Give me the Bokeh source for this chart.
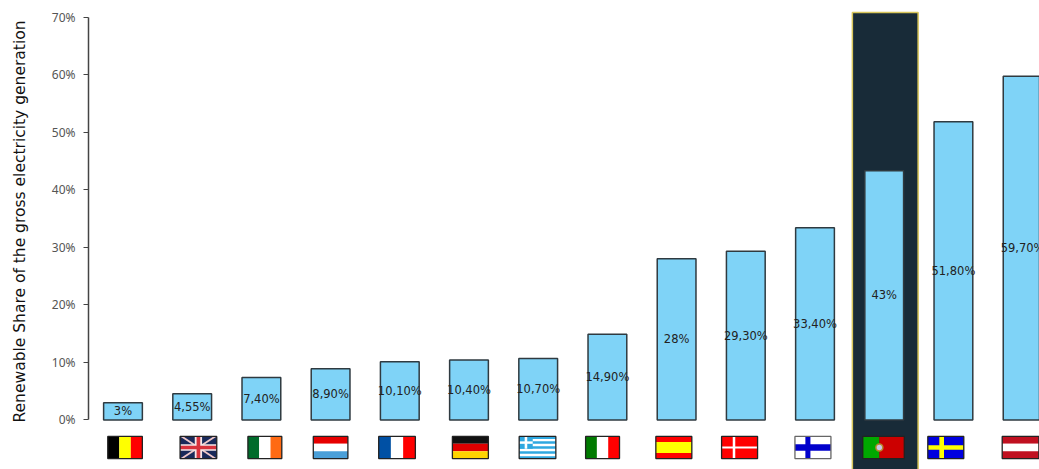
import math
from bokeh.plotting import figure
from bokeh.embed import file_html
from bokeh.resources import INLINE
from bokeh.models import FixedTicker, Range1d, ColumnDataSource
from bokeh.core.properties import value

countries = ["BE", "UK", "IE", "LU", "FR", "DE", "GR", "IT", "ES", "DK", "FI", "PT", "SE", "AT"]
shares = [3, 4.55, 7.4, 8.9, 10.1, 10.4, 10.7, 14.9, 28, 29.3, 33.4, 43.3, 51.8, 59.7]
share_labels = ["3%", "4,55%", "7,40%", "8,90%", "10,10%", "10,40%", "10,70%", "14,90%",
                "28%", "29,30%", "33,40%", "43%", "51,80%", "59,70%"]
ticks = [0, 10, 20, 30, 40, 50, 60, 70]
tick_labels = ["0%", "10%", "20%", "30%", "40%", "50%", "60%", "70%"]
y_title = "Renewable Share of the gross electricity generation"
flag_centers = [0.03, 1.09, 2.05, 3.0, 3.96, 5.02, 5.99, 6.93, 7.96, 8.91, 9.97, 10.99, 11.89, 12.97]
flag_widths = [0.50, 0.53, 0.49, 0.50, 0.53, 0.52, 0.53, 0.49, 0.52, 0.52, 0.52, 0.60, 0.52, 0.53]
flag_mid = -4.78
flag_height = 3.85
highlight = "PT"

stripes_v = {"BE": (["#000000", "#FFFF00", "#FF0000"], [1, 1, 1]),
             "IE": (["#006B2B", "#FFFFFF", "#FF6A13"], [1, 1, 1]),
             "FR": (["#0050A4", "#FFFFFF", "#FF0000"], [1, 1, 1]),
             "IT": (["#007A00", "#FFFFFF", "#FF0000"], [1, 1, 1]),
             "PT": (["#00A800", "#CC0000"], [2, 3])}
stripes_h = {"LU": (["#E60000", "#FFFFFF", "#4A9FD8"], [1, 1, 1]),
             "DE": (["#111111", "#E00000", "#FFD400"], [1, 1, 1]),
             "ES": (["#FF0000", "#FFFF00", "#FF0000"], [1, 2, 1]),
             "AT": (["#C01020", "#FFFFFF", "#C01020"], [1, 1, 1])}
# background, cross colour, vertical start, vertical end, horizontal half-height (fractions of flag)
crosses = {"DK": ("#FF0000", "#FFFFFF", 0.31, 0.38, 0.05),
           "FI": ("#FFFFFF", "#0000CC", 0.29, 0.43, 0.15),
           "SE": ("#0000E0", "#FFFF00", 0.32, 0.45, 0.10)}

p = figure(width=1039, height=469, output_backend="svg", toolbar_location=None,
           x_range=Range1d(-1.770, 13.244), y_range=Range1d(-8.6, 72.87),
           min_border_left=0, min_border_right=0, min_border_top=0, min_border_bottom=0,
           outline_line_color=None, background_fill_color="#FFFFFF")
p.grid.visible = False
p.xaxis.visible = False

ax = p.yaxis[0]
ax.fixed_location = -0.4986
ax.bounds = (0, 70)
ax.ticker = FixedTicker(ticks=ticks)
ax.major_label_overrides = dict(zip(ticks, tick_labels))
ax.major_tick_in = 0
ax.major_tick_out = 5
ax.minor_tick_line_color = None
ax.axis_line_color = "#444444"
ax.axis_line_width = 1.5
ax.major_tick_line_color = "#444444"
ax.major_tick_line_width = 1.2
ax.major_label_text_font = "Noto Sans"
ax.major_label_text_font_size = "12px"
ax.major_label_text_color = "#555555"
ax.major_label_standoff = 8

p.text(x=[-1.488], y=[34.48], text=[y_title], angle=math.pi / 2, text_align="center",
       text_baseline="middle", text_font=value("DejaVu Sans"), text_font_size="15.5px",
       text_color="#111111")

xs = list(range(len(countries)))
hi = countries.index(highlight)

p.quad(left=[hi - 0.46], right=[hi + 0.49], top=[70.8], bottom=[-9],
       fill_color="#182B38", line_color="#D8C65A", line_width=1.5)

p.vbar(x=xs, top=shares, bottom=0, width=0.56,
       fill_color="#7FD3F7", line_color="#2F3A40", line_width=1.5)

label_y = [s / 2 for s in shares]
p.text(x=xs, y=label_y, text=share_labels, text_align="center", text_baseline="middle",
       text_font=value("DejaVu Sans"), text_font_size="11.5px", text_color="#222222")

L, R, T, B, C = [], [], [], [], []


def add(l, r, b, t, c):
    L.append(l); R.append(r); B.append(b); T.append(t); C.append(c)


patch_x, patch_y, patch_c = [], [], []
for name, cx, w in zip(countries, flag_centers, flag_widths):
    x0, x1 = cx - w / 2, cx + w / 2
    y0, y1 = flag_mid - flag_height / 2, flag_mid + flag_height / 2
    fw, fh = x1 - x0, y1 - y0
    if name in stripes_v:
        cols, wts = stripes_v[name]
        pos = x0
        for c, k in zip(cols, wts):
            nxt = pos + fw * k / sum(wts)
            add(pos, nxt, y0, y1, c)
            pos = nxt
    elif name in stripes_h:
        cols, wts = stripes_h[name]
        pos = y1
        for c, k in zip(cols, wts):
            nxt = pos - fh * k / sum(wts)
            add(x0, x1, nxt, pos, c)
            pos = nxt
    elif name in crosses:
        bg, fg, v0, v1, hh = crosses[name]
        add(x0, x1, y0, y1, bg)
        add(x0 + fw * v0, x0 + fw * v1, y0, y1, fg)
        add(x0, x1, flag_mid - fh * hh, flag_mid + fh * hh, fg)
    elif name == "GR":
        add(x0, x1, y0, y1, "#2FA8E0")
        for k in range(1, 9, 2):
            add(x0, x1, y1 - fh * (k + 1) / 9, y1 - fh * k / 9, "#FFFFFF")
        add(x0, x0 + fw * 0.37, y1 - fh * 5 / 9, y1, "#2FA8E0")
        add(x0 + fw * 0.15, x0 + fw * 0.22, y1 - fh * 5 / 9, y1, "#FFFFFF")
        add(x0, x0 + fw * 0.37, y1 - fh * 3 / 9, y1 - fh * 2 / 9, "#FFFFFF")
    elif name == "UK":
        add(x0, x1, y0, y1, "#1A2A5A")
        dx = fw * 0.09
        patch_x += [[x0, x0 + dx, x1, x1 - dx], [x0, x0 + dx, x1, x1 - dx]]
        patch_y += [[y1, y1, y0, y0], [y0, y0, y1, y1]]
        patch_c += ["#F0C8C8", "#F0C8C8"]
        patch_x += [[x0, x1, x1, x0], [cx - fw * 0.1, cx + fw * 0.1, cx + fw * 0.1, cx - fw * 0.1],
                    [x0, x1, x1, x0], [cx - fw * 0.05, cx + fw * 0.05, cx + fw * 0.05, cx - fw * 0.05]]
        patch_y += [[flag_mid - fh * 0.15, flag_mid - fh * 0.15, flag_mid + fh * 0.15, flag_mid + fh * 0.15],
                    [y0, y0, y1, y1],
                    [flag_mid - fh * 0.08, flag_mid - fh * 0.08, flag_mid + fh * 0.08, flag_mid + fh * 0.08],
                    [y0, y0, y1, y1]]
        patch_c += ["#F4E8E8", "#F4E8E8", "#D8323C", "#D8323C"]

p.quad(left=L, right=R, top=T, bottom=B, fill_color=C, line_color=None)
p.patches(xs=patch_x, ys=patch_y, fill_color=patch_c, line_color=None)

# Portuguese emblem
pt_i = countries.index("PT")
p.scatter(x=[flag_centers[pt_i] - flag_widths[pt_i] * 0.10], y=[flag_mid], size=7,
          fill_color="#C8C8E8", line_color="#B8862A", line_width=1.5)

# flag borders
border_cols = ["#666666" if c == "FI" else "#222222" for c in countries]
src = ColumnDataSource(dict(x=flag_centers, w=flag_widths, c=border_cols,
                            y=[flag_mid] * len(countries), h=[flag_height] * len(countries)))
p.rect(x="x", y="y", width="w", height="h", source=src, fill_color=None, line_color="c", line_width=1.3)

open("out.html", "w").write(file_html(p, INLINE))
